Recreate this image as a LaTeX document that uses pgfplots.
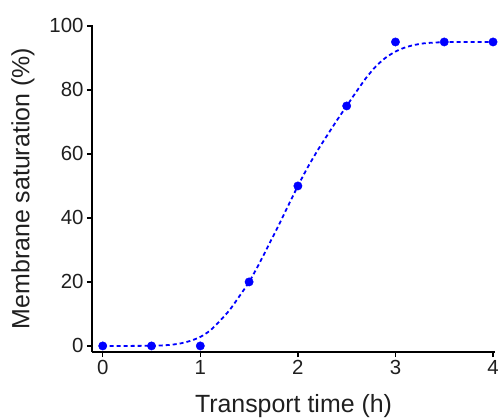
\documentclass[border=0pt]{standalone}
\usepackage{fontspec}
\setmainfont{Liberation Sans}
\usepackage{pgfplots}
\pgfplotsset{compat=1.18}
\definecolor{ptblue}{RGB}{0,0,255}
\begin{document}
\begin{tikzpicture}
\begin{axis}[
  scale only axis,
  width=403bp, height=327bp,
  xmin=-0.11, xmax=4.02,
  ymin=-1.9, ymax=100.3,
  axis x line=bottom, axis y line=left,
  axis line style={-, black, line width=1.4bp},
  xtick={0,1,2,3,4}, ytick={0,20,40,60,80,100},
  tick align=outside,
  major tick length=5bp,
  tick style={black, line width=1.3bp},
  /pgf/number format/assume math mode=true,
  ticklabel style={font=\fontsize{20.5}{23}\selectfont, text=black!88},
  xlabel={Transport time (h)},
  ylabel={Membrane saturation (\%)},
  label style={font=\fontsize{25}{28}\selectfont, text=black!88},
  xlabel style={yshift=-13bp},
  ylabel style={yshift=8bp},
  clip=false,
]
\addplot[ptblue, line width=1.8bp, dash pattern=on 4bp off 3bp, smooth, tension=0.4] coordinates {
(0,0) (0.25,0) (0.5,0.05) (0.6,0.15) (0.7,0.35) (0.8,0.8) (0.9,1.6) (1.0,2.8)
(1.1,4.8) (1.2,7.8) (1.3,11.2) (1.4,15.5) (1.5,20) (1.6,25.5) (1.7,31.5)
(1.8,37.5) (1.9,43.8) (2.0,50) (2.1,55.8) (2.2,61.0) (2.3,65.8) (2.4,70.5)
(2.5,75) (2.6,79.5) (2.7,83.8) (2.8,87.4) (2.9,90.1) (3.0,92.0) (3.1,93.3)
(3.2,94.1) (3.3,94.6) (3.4,94.8) (3.5,94.95) (3.75,95) (4,95)
};
\addplot[only marks, mark=*, mark size=4.2bp, ptblue, mark options={draw=ptblue, fill=ptblue}] coordinates {
(0,0) (0.5,0) (1,0) (1.5,20) (2,50) (2.5,75) (3,95) (3.5,95) (4,95)
};
\end{axis}
\pgfresetboundingbox
\path[use as bounding box] ([xshift=-92bp,yshift=-67bp]current axis.south west) rectangle ([xshift=5bp,yshift=25bp]current axis.north east);
\end{tikzpicture}
\end{document}
